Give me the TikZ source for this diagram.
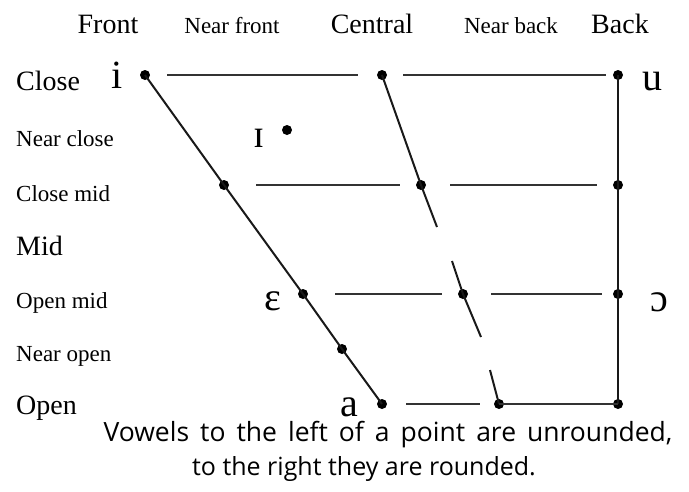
\documentclass[tikz,border=0pt]{standalone}
\usepackage{fontspec}
\setmainfont{Liberation Serif}
\newfontfamily\capfont{Open Sans}
\begin{document}
\begin{tikzpicture}[x=1pt,y=-1pt,
  vdot/.style={circle,fill=black,inner sep=0pt,minimum size=10pt},
  vline/.style={line width=2pt,black!90},
  hline/.style={line width=2.3pt,black!80},
  biglab/.style={font=\fontsize{28}{30}\selectfont,anchor=base west,inner sep=0pt},
  smalllab/.style={font=\fontsize{23}{25}\selectfont,anchor=base west,inner sep=0pt},
  bighead/.style={font=\fontsize{28}{30}\selectfont,anchor=base,inner sep=0pt},
  smallhead/.style={font=\fontsize{23}{25}\selectfont,anchor=base,inner sep=0pt},
  ipa/.style={font=\fontsize{40}{42}\selectfont,anchor=base,inner sep=0pt},
  caption/.style={anchor=base,inner sep=0pt}]
\useasboundingbox (0,0) rectangle (689,491);

% headers
\node[bighead]   (hf)  at (108,33) {Front};
\node[smallhead] (hnf) at (232,33) {Near front};
\node[bighead]   (hc)  at (372,33) {Central};
\node[smallhead] (hnb) at (511,33) {Near back};
\node[bighead]   (hb)  at (620,33) {Back};

% row labels
\node[biglab]   (rclose) at (16,90)  {Close};
\node[smalllab] (rnc)    at (16,146) {Near close};
\node[smalllab] (rcm)    at (16,201) {Close mid};
\node[biglab]   (rmid)   at (16,255) {Mid};
\node[smalllab] (rom)    at (16,308) {Open mid};
\node[smalllab] (rno)    at (16,361) {Near open};
\node[biglab]   (ropen)  at (16,414) {Open};

% dots
\node[vdot] (i)  at (145,75) {};
\node[vdot] (c1) at (382,75) {};
\node[vdot] (b1) at (618,75) {};
\node[vdot] (ni) at (287,130) {};
\node[vdot] (f2) at (224,185) {};
\node[vdot] (c2) at (421,185) {};
\node[vdot] (b2) at (618,185) {};
\node[vdot] (f3) at (303,294) {};
\node[vdot] (c3) at (463,294) {};
\node[vdot] (b3) at (618,294) {};
\node[vdot] (f4) at (342,349) {};
\node[vdot] (a)  at (382,404) {};
\node[vdot] (c4) at (499,404) {};
\node[vdot] (b4) at (618,404) {};

% free ends of the central line pieces
\coordinate (m1) at (437,227);
\coordinate (m2) at (452,261);
\coordinate (m3) at (481,337);
\coordinate (m4) at (490,370);

% front diagonal
\draw[vline] (i.center) -- (f2.center) -- (f3.center) -- (f4.center) -- (a.center);
% central line
\draw[vline] (c1.center) -- (c2.center) -- (m1);
\draw[vline] (m2) -- (c3.center) -- (m3);
\draw[vline] (m4) -- (c4.center);
% back line
\draw[vline] (b1.center) -- (b2.center) -- (b3.center) -- (b4.center);

% horizontal lines
\draw[hline,shorten <=22pt,shorten >=24pt] (i.center) -- (c1.center);
\draw[hline,shorten <=21pt,shorten >=12pt] (c1.center) -- (b1.center);
\draw[hline,shorten <=32pt,shorten >=21pt] (f2.center) -- (c2.center);
\draw[hline,shorten <=29pt,shorten >=21pt] (c2.center) -- (b2.center);
\draw[hline,shorten <=32pt,shorten >=21pt] (f3.center) -- (c3.center);
\draw[hline,shorten <=28pt,shorten >=16pt] (c3.center) -- (b3.center);
\draw[hline,shorten <=24pt,shorten >=19pt] (a.center) -- (c4.center);
\draw[hline] (c4.center) -- (b4.center);

% vowel symbols
\node[ipa] (si) at (117,88)  {i};
\node[ipa] (su) at (652,90)  {u};
\node[ipa] (sI) at (259,147) {ɪ};
\node[ipa] (se) at (273,310) {ɛ};
\node[ipa] (so) at (659,311) {ɔ};
\node[ipa] (sa) at (349,416) {a};

% caption
\node[caption,font=\capfont\fontsize{26.5}{28}\selectfont] (cap1) at (388,441) {\spaceskip=11pt Vowels to the left of a point are unrounded,};
\node[caption,font=\capfont\fontsize{25}{28}\selectfont] (cap2) at (364,475) {to the right they are rounded.};
\end{tikzpicture}
\end{document}
